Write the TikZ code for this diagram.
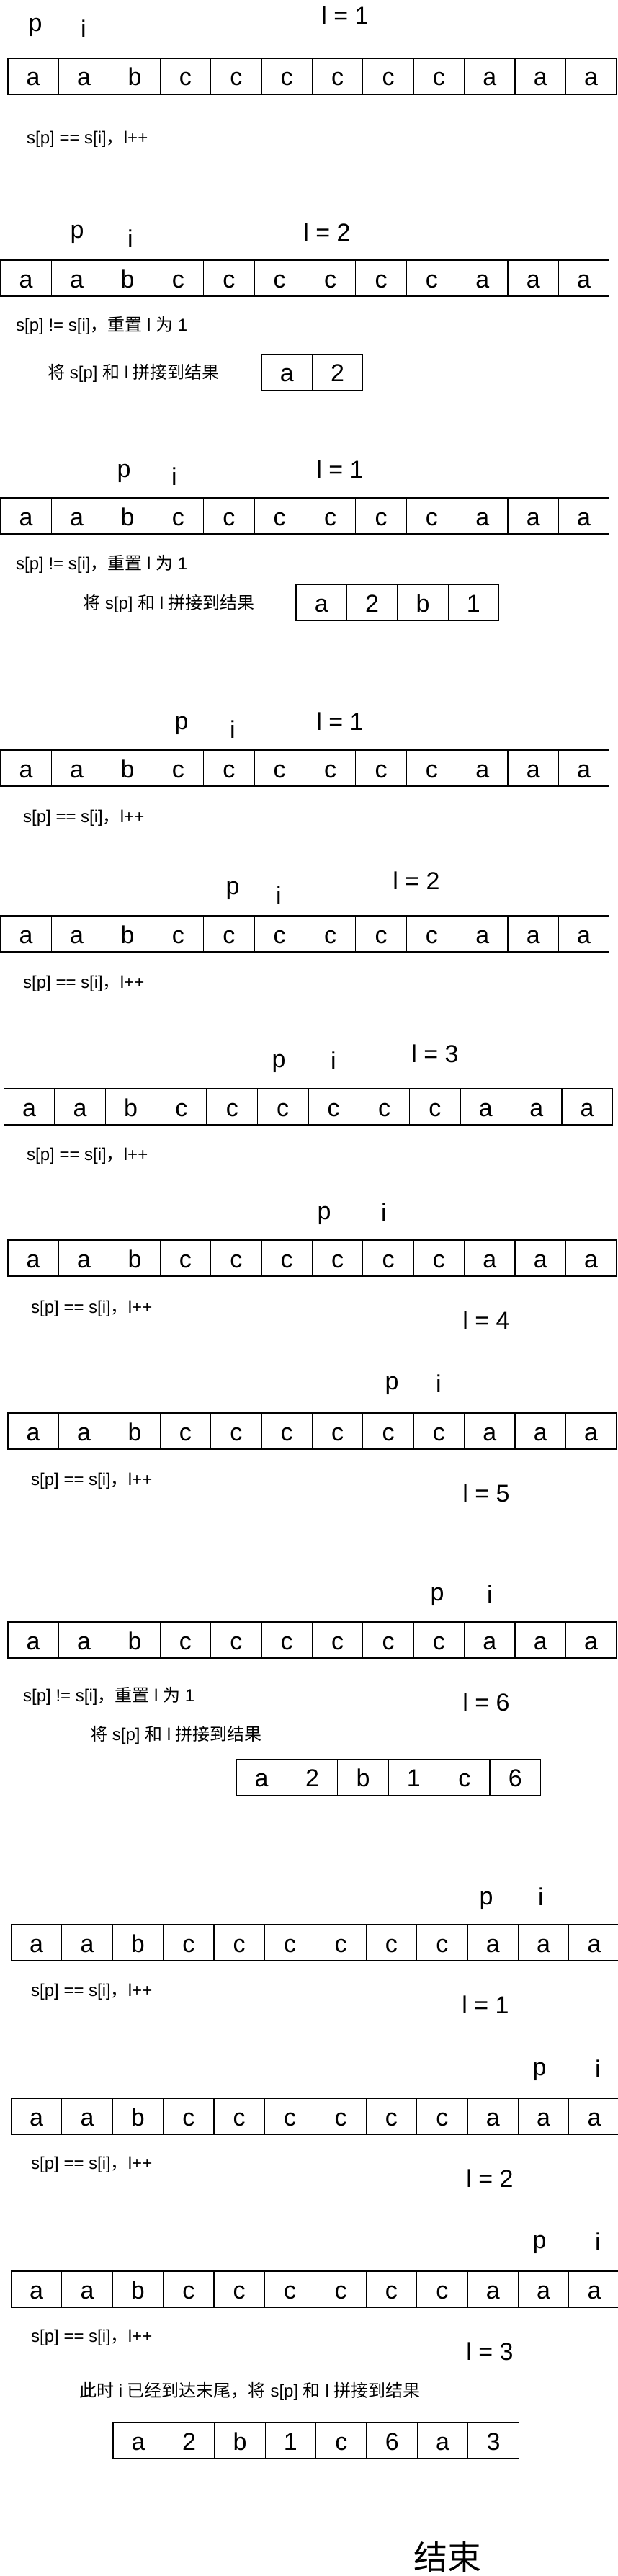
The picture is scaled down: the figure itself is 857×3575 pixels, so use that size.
\documentclass[tikz,border=0pt]{standalone}
\usepackage{fontspec}
\setmainfont{Liberation Sans}
\newfontfamily\zhfont{Noto Sans CJK SC}
\newcommand{\zh}[1]{{\zhfont #1}}
\begin{document}
\begin{tikzpicture}[x=1pt,y=-1pt,
  cell/.style={draw,line width=1.3pt,minimum width=70.4pt,minimum height=50pt,inner sep=0pt,
    text height=26pt,text depth=0pt,font=\fontsize{34}{34}\selectfont},
  ptr/.style={anchor=base,inner sep=0pt,font=\fontsize{34}{34}\selectfont},
  note/.style={anchor=base west,inner sep=0pt,font=\fontsize{24}{24}\selectfont}]
\path[use as bounding box,fill=white] (0,0) rectangle (857,3575);

% the string, one row per step
\foreach \r/\x/\y in {1/11/106,2/1/386,3/1/716,4/1/1066,5/1/1296,6/5.5/1536,
    7/11/1746,8/11/1986,9/11/2276,10/15.4/2696,11/15.4/2937,12/15.4/3177}
  \foreach \ch [count=\k] in {a,a,b,c,c,c,c,c,c,a,a,a}
    \node[cell] (row\r-\k) at ({\x+70.4*(\k-0.5)},\y) {\ch};

% pointers p, i and the count l
\foreach \r/\px/\pb/\ix/\ib/\lv/\lx/\lb in {1/49/44/116/53/1/479/34,2/107/330/181/343/2/454/334,
    3/172/662/242/673/1/472/663,4/252/1012/323/1024/1/472/1013,5/323/1241/387/1254/2/578/1234,
    6/387/1481/463/1484/3/604/1474,7/450/1692/533/1694/4/675/1844,8/544/1928/609/1932/5/675/2084,
    9/607/2221/680/2224/6/675/2374,10/675/2643/751/2644/1/674/2794,11/749/2880/830/2883/2/680/3035,
    12/749/3120/830/3123/3/680/3275}
{
  \node[ptr] (p\r) at (\px,\pb) {p};
  \node[ptr] (i\r) at (\ix,\ib) {i};
  \node[ptr] (len\r) at (\lx,\lb) {l = \lv};
}

% what happens at each step
\foreach \r/\x/\y in {1/37/200,4/32/1141,5/32/1371,6/37/1610,7/43/1822,8/43/2061,10/43/2770,11/43/3010,12/43/3250}
  \node[note] (eq\r) at (\x,\y) {s[p] == s[i]\zh{，}l++};
\foreach \r/\x/\y in {2/22/459,3/22/790,9/32/2361}
  \node[note] (ne\r) at (\x,\y) {s[p] != s[i]\zh{，重置} l \zh{为} 1};
\foreach \r/\x/\y in {2/66/525,3/115/845,9/125/2415}
  \node[note] (join\r) at (\x,\y) {\zh{将} s[p] \zh{和} l \zh{拼接到结果}};
\node[note] (last) at (110,3326)
  {\zh{此时} i \zh{已经到达末尾，将} s[p] \zh{和} l \zh{拼接到结果}};

% result so far
\foreach \ch [count=\k] in {a,2}
  \node[cell] (res2-\k) at ({363+70.4*(\k-0.5)},516.5) {\ch};
\foreach \ch [count=\k] in {a,2,b,1}
  \node[cell] (res3-\k) at ({411+70.4*(\k-0.5)},836.5) {\ch};
\foreach \ch [count=\k] in {a,2,b,1,c,6}
  \node[cell] (res9-\k) at ({328+70.4*(\k-0.5)},2466.5) {\ch};
\foreach \ch [count=\k] in {a,2,b,1,c,6,a,3}
  \node[cell] (res12-\k) at ({157+70.4*(\k-0.5)},3387) {\ch};

\node[ptr,font=\fontsize{47}{47}\zhfont] (end) at (621,3566) {结束};
\end{tikzpicture}
\end{document}
